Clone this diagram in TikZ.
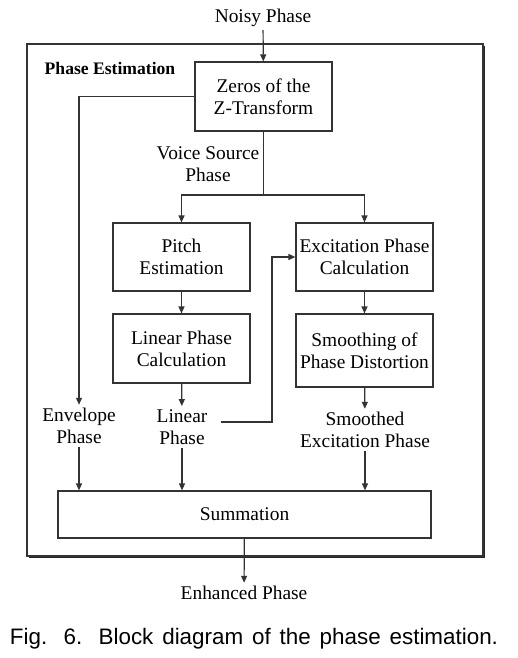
\documentclass[tikz,border=0pt]{standalone}
\usepackage{fontspec}
\setmainfont{Liberation Serif}
\newfontfamily\capfont{Liberation Sans}
\usetikzlibrary{calc}
\usetikzlibrary{arrows.meta}
\usetikzlibrary{shadows}
\tikzset{
BLK/.style = {draw=black!80, line width=0.6pt, align=center,
        minimum width=68.5pt, minimum height=34pt, inner sep=1pt,
        font=\fontsize{9.7}{11}\selectfont
            },
LBL/.style = {align=center, inner sep=1.5pt,
        font=\fontsize{9.7}{11}\selectfont
            },
ARR/.style = {line width=0.6pt, draw=black!80,
        -{Triangle[length=3.5pt,width=3pt]}
            }
        }

\begin{document}
\begin{tikzpicture}[x=0.5pt, y=-0.5pt]

\useasboundingbox (0,0) rectangle (518,658);

%%% Outer frame:

\draw[
     line width=0.6pt,
     draw=black!80,
     fill=white,
     drop shadow={shadow xshift=1pt, shadow yshift=-1pt, opacity=1, fill=black!85},
     ]
     (27,44) rectangle (483,556);

\node[font=\fontsize{8.8}{10}\selectfont\bfseries, inner sep=0pt] (title) at (110,68) {Phase Estimation};

%%% Blocks:

\node[LBL] (noisy) at (263,18) {Noisy Phase};
\node[BLK, minimum height=34.5pt] (zeros) at (263.5,96.5) {Zeros of the\\Z-Transform};
\node[BLK] (pitch) at (181.5,257) {Pitch\\Estimation};
\node[BLK, minimum height=34.5pt] (lincalc) at (181.5,348.5) {Linear Phase\\Calculation};
\node[BLK] (excite) at (364.5,257) {Excitation Phase\\Calculation};
\node[BLK, minimum height=36.5pt] (smooth) at (364.5,350.5) {Smoothing of\\Phase Distortion};
\node[BLK, minimum width=186.5pt, minimum height=23.5pt] (summ) at (244.5,514.5) {Summation};

%%% Labels:

\node[LBL] (voice) at (208,164) {Voice Source\\Phase};
\node[LBL] (envelope) at (79,426) {Envelope\\Phase};
\node[LBL] (linearph) at (182,427) {Linear\\Phase};
\node[LBL] (smoothed) at (365,430) {Smoothed\\Excitation Phase};
\node[LBL] (enhanced) at (244,593) {Enhanced Phase};

\node[inner sep=0pt] (cap) at (254,639)
     {\capfont\fontsize{11.2}{13}\selectfont\makebox[244pt][s]{Fig. 6. Block diagram of the phase estimation.}};

%%% Connectors:

\coordinate (split) at (263.5,195);
\coordinate (mid) at (272,422);

\draw[ARR] (noisy) -- (zeros);
\draw[ARR] (zeros.west) -| (envelope.north);
\draw[line width=0.6pt, draw=black!80] (zeros.south) -- (split);
\draw[ARR] (split) -| (pitch.north);
\draw[ARR] (split) -| (excite.north);
\draw[ARR] (pitch) -- (lincalc);
\draw[ARR] (excite) -- (smooth);
\draw[ARR] (lincalc) -- (linearph);
\draw[ARR] (smooth) -- (smoothed);
\draw[ARR] ([xshift=5pt]linearph.east |- mid) -- (mid) |- (excite.west);

\draw[ARR] (envelope.south) -- (envelope.south |- summ.north);
\draw[ARR] (linearph.south) -- (linearph.south |- summ.north);
\draw[ARR] (smoothed.south) -- (smoothed.south |- summ.north);
\draw[ARR] (summ) -- (enhanced);

\end{tikzpicture}
\end{document}
